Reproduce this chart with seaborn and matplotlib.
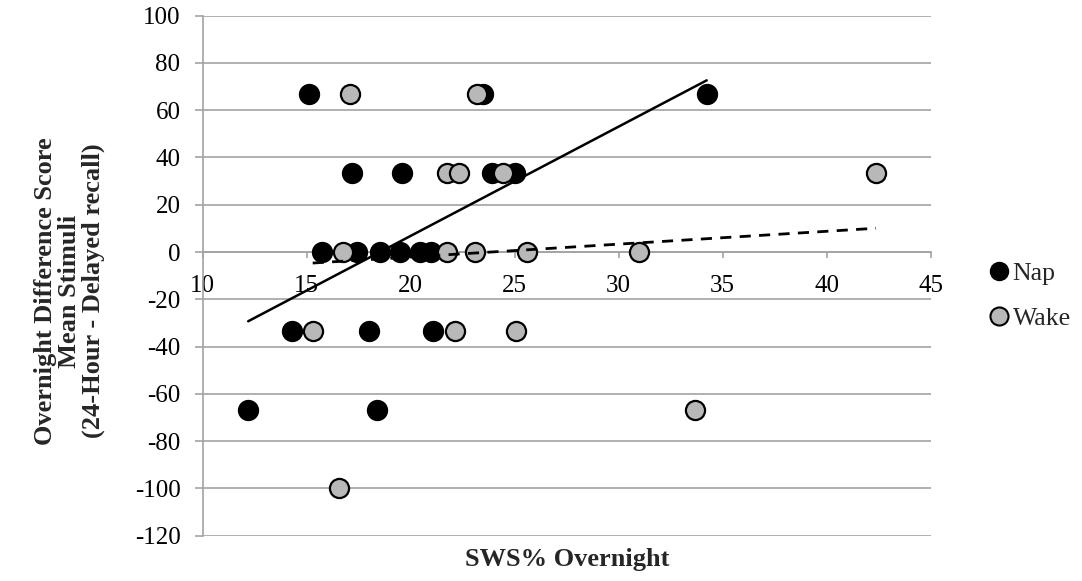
import matplotlib
matplotlib.use("Agg")
import matplotlib.pyplot as plt
import seaborn as sns
import pandas as pd
import numpy as np
from matplotlib.lines import Line2D

nap_x = [15.11, 23.5, 17.19, 19.6, 23.9, 25.0, 15.72, 17.4, 18.52, 19.49,
         20.45, 21.0, 34.23, 14.28, 18.0, 21.09, 12.19, 18.4]
nap_y = [66.67, 66.67, 33.33, 33.33, 33.33, 33.33, 0, 0, 0, 0,
         0, 0, 66.67, -33.33, -33.33, -33.33, -66.67, -66.67]
wake_x = [17.08, 23.2, 21.76, 22.34, 24.45, 42.37, 16.76, 21.73, 23.09, 25.6,
          30.99, 15.29, 22.13, 25.06, 33.67, 16.57]
wake_y = [66.67, 66.67, 33.33, 33.33, 33.33, 33.33, 0, 0, 0, 0,
          0, -33.33, -33.33, -33.33, -66.67, -100]
x_ticks = [10, 15, 20, 25, 30, 35, 40, 45]
y_ticks = [100, 80, 60, 40, 20, 0, -20, -40, -60, -80, -100, -120]

df = pd.DataFrame({
    "x": nap_x + wake_x,
    "y": nap_y + wake_y,
    "group": ["Nap"] * len(nap_x) + ["Wake"] * len(wake_x),
})

sns.set_theme(style="white")
plt.rcParams["font.family"] = ["Liberation Serif", "DejaVu Serif"]

GRID = "#a3a3a3"
GRAY = "#b8b8b8"
FS = 18
FSL = 19

fig = plt.figure(figsize=(10.82, 5.81), dpi=100)
ax = fig.add_axes([0.1873, 0.0778, 0.6729, 0.8955])

nap = df[df.group == "Nap"]
wake = df[df.group == "Wake"]
sns.scatterplot(data=nap, x="x", y="y", ax=ax, color="black", s=200,
                edgecolor="black", linewidth=1.2, zorder=3, legend=False)
sns.scatterplot(data=wake, x="x", y="y", ax=ax, color=GRAY, s=190,
                edgecolor="black", linewidth=1.6, zorder=3, legend=False)
sns.regplot(data=nap, x="x", y="y", ax=ax, scatter=False, ci=None,
            truncate=True, line_kws=dict(color="black", lw=1.8, zorder=4))
sns.regplot(data=wake, x="x", y="y", ax=ax, scatter=False, ci=None,
            truncate=True, line_kws=dict(color="black", lw=2.0,
                                         ls=(0, (4, 3)), zorder=4))

ax.set_xlim(10, 45)
ax.set_ylim(-120, 100)
ax.set_xticks(x_ticks)
ax.set_yticks(y_ticks)
ax.set_xticklabels([str(t) for t in x_ticks])
ax.set_yticklabels([str(t) for t in y_ticks])
ax.yaxis.grid(True, color=GRID, lw=1.2)
ax.xaxis.grid(False)
ax.set_axisbelow(True)

for s in ["top", "right"]:
    ax.spines[s].set_visible(False)
ax.spines["bottom"].set_position(("data", 0))
ax.spines["bottom"].set_color(GRID)
ax.spines["left"].set_color(GRID)
ax.spines["bottom"].set_linewidth(1.2)
ax.spines["left"].set_linewidth(1.2)
ax.spines["bottom"].set_zorder(1)

ax.tick_params(axis="both", which="both", direction="out",
               width=1.2, color=GRID, labelsize=FS, labelcolor="black",
               bottom=True, left=True)
ax.tick_params(axis="x", length=4.3, pad=12.5)
ax.tick_params(axis="y", length=5.5, pad=10.5)

ax.set_xlabel("")
ax.set_ylabel("Overnight Difference Score\nMean Stimuli\n(24-Hour - Delayed recall)",
              fontsize=FSL, fontweight="bold", linespacing=1.05)
ax.yaxis.set_label_coords(-0.134, 0.4705)
ax.text(0.5, -0.0446, "SWS% Overnight", transform=ax.transAxes, ha="center",
        va="center", fontsize=FSL, fontweight="bold")

handles = [
    Line2D([], [], ls="none", marker="o", markersize=13, markerfacecolor="black",
           markeredgecolor="black"),
    Line2D([], [], ls="none", marker="o", markersize=13, markerfacecolor=GRAY,
           markeredgecolor="black", markeredgewidth=1.5),
]
ax.legend(handles, ["Nap", "Wake"], loc="center left",
          bbox_to_anchor=(1.066, 0.461), frameon=False, fontsize=18.5,
          handlelength=0.8, handletextpad=0.12, labelspacing=0.87,
          borderaxespad=0)

fig.savefig("out.png", dpi=100)
